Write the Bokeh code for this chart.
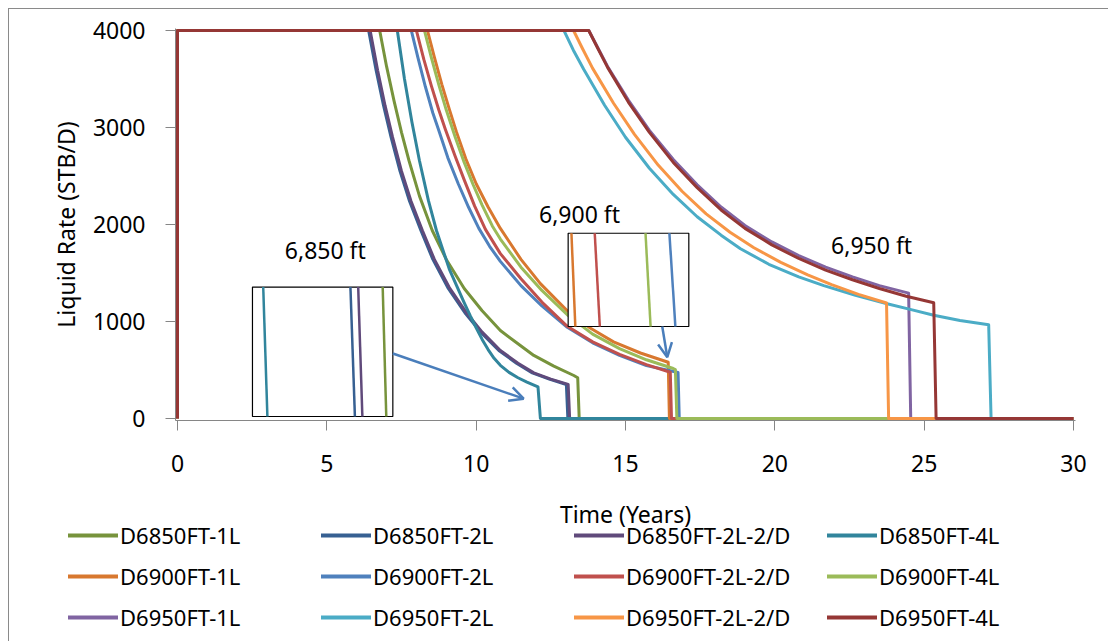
from bokeh.plotting import figure
from bokeh.models import (Range1d, FixedTicker, Legend, LegendItem, Arrow, OpenHead,
                          ColumnDataSource, InlineStyleSheet)
from bokeh.embed import file_html
from bokeh.resources import INLINE
from bokeh.core.properties import value

FONT = "Noto Sans"

# ---------------- data ----------------
names = ["D6850FT-1L", "D6850FT-2L", "D6850FT-2L-2/D", "D6850FT-4L",
         "D6900FT-1L", "D6900FT-2L", "D6900FT-2L-2/D", "D6900FT-4L",
         "D6950FT-1L", "D6950FT-2L", "D6950FT-2L-2/D", "D6950FT-4L"]
colors = ["#77933C", "#376092", "#604A7B", "#31859C",
          "#D8782F", "#4F81BD", "#C0504D", "#9BBB59",
          "#8064A2", "#4BACC6", "#F79646", "#953735"]

t_6850_1L = [0, 0, 6.77, 7.0, 7.25, 7.5, 7.75, 8.1, 8.53, 9.0, 9.6, 10.2, 10.81, 11.4, 11.93, 12.6, 13.27, 13.40, 13.45, 30]
q_6850_1L = [0, 4000, 4000, 3630, 3275, 2950, 2660, 2295, 1938, 1640, 1340, 1110, 907, 770, 650, 540, 443, 420, 0, 0]

t_6850_2L = [0, 0, 6.40, 6.65, 6.90, 7.15, 7.45, 7.77, 8.15, 8.55, 9.05, 9.65, 10.15, 10.76, 11.35, 11.88, 12.45, 13.02, 13.07, 30]
q_6850_2L = [0, 4000, 4000, 3590, 3225, 2900, 2550, 2240, 1938, 1640, 1350, 1079, 890, 701, 570, 470, 405, 350, 0, 0]

t_6850_2L2D = [0, 0, 6.45, 6.70, 6.95, 7.20, 7.50, 7.82, 8.20, 8.60, 9.10, 9.70, 10.20, 10.81, 11.40, 11.93, 12.50, 13.08, 13.13, 30]
q_6850_2L2D = [0, 4000, 4000, 3590, 3225, 2900, 2550, 2240, 1938, 1640, 1350, 1079, 890, 701, 570, 470, 405, 352, 0, 0]

t_6850_4L = [0, 0, 7.36, 7.6, 7.85, 8.1, 8.4, 8.67, 9.1, 9.59, 9.8, 10.0, 10.2, 10.4, 10.6, 10.81, 11.1, 11.4, 11.7, 12.07, 12.15, 30]
q_6850_4L = [0, 4000, 4000, 3500, 3055, 2660, 2248, 1938, 1540, 1200, 1060, 935, 815, 710, 620, 548, 475, 420, 375, 325, 0, 0]

t_6900_1L = [0, 0, 8.37, 8.6, 8.85, 9.1, 9.34, 9.65, 10.0, 10.4, 10.81, 11.5, 12.15, 13.05, 13.83, 14.6, 15.5, 16.43, 16.47, 30]
q_6900_1L = [0, 4000, 4000, 3725, 3445, 3190, 2955, 2680, 2420, 2180, 1960, 1640, 1390, 1110, 930, 790, 675, 580, 0, 0]

t_6900_2L = [0, 0, 7.83, 8.05, 8.3, 8.55, 8.75, 9.05, 9.4, 9.75, 10.09, 10.45, 10.81, 11.5, 12.2, 13.05, 13.9, 14.8, 15.7, 16.5, 16.76, 16.80, 30]
q_6900_2L = [0, 4000, 4000, 3720, 3420, 3150, 2970, 2690, 2420, 2175, 1960, 1775, 1620, 1370, 1160, 940, 780, 650, 545, 492, 474, 0, 0]

t_6900_2L2D = [0, 0, 8.0, 8.25, 8.5, 8.75, 8.97, 9.3, 9.6, 9.95, 10.31, 10.81, 11.5, 12.2, 13.05, 13.9, 14.8, 15.7, 16.5, 16.54, 30]
q_6900_2L2D = [0, 4000, 4000, 3700, 3430, 3180, 2980, 2700, 2460, 2190, 1950, 1700, 1440, 1200, 950, 790, 660, 555, 477, 0, 0]

t_6900_4L = [0, 0, 8.27, 8.5, 8.75, 9.0, 9.3, 9.6, 9.9, 10.2, 10.54, 10.81, 11.5, 12.2, 13.05, 13.9, 14.8, 15.7, 16.6, 16.67, 16.72, 30]
q_6900_4L = [0, 4000, 4000, 3720, 3440, 3180, 2900, 2640, 2410, 2200, 1985, 1850, 1560, 1320, 1070, 870, 720, 605, 515, 505, 0, 0]

t_6950_1L = [0, 0, 13.77, 14.05, 14.4, 15.1, 15.8, 16.6, 17.4, 18.2, 19.0, 19.9, 20.8, 21.7, 22.6, 23.5, 24.48, 24.55, 30]
q_6950_1L = [0, 4000, 4000, 3835, 3630, 3280, 2970, 2670, 2410, 2180, 1990, 1820, 1680, 1560, 1460, 1370, 1292, 0, 0]

t_6950_2L = [0, 0, 12.94, 13.25, 13.6, 14.3, 15.0, 15.8, 16.6, 17.4, 18.2, 18.85, 19.8, 20.8, 21.64, 22.7, 23.76, 24.6, 25.32, 26.2, 27.16, 27.24, 30]
q_6950_2L = [0, 4000, 4000, 3800, 3600, 3230, 2900, 2580, 2310, 2080, 1890, 1750, 1590, 1460, 1370, 1270, 1182, 1120, 1065, 1010, 966, 0, 0]

t_6950_2L2D = [0, 0, 13.26, 13.55, 13.9, 14.6, 15.3, 16.1, 16.9, 17.7, 18.5, 19.3, 20.2, 21.1, 21.9, 22.8, 23.74, 23.81, 30]
q_6950_2L2D = [0, 4000, 4000, 3820, 3610, 3250, 2930, 2610, 2340, 2110, 1920, 1760, 1610, 1480, 1380, 1280, 1190, 0, 0]

t_6950_4L = [0, 0, 13.77, 14.05, 14.4, 15.1, 15.8, 16.6, 17.4, 18.2, 19.0, 19.9, 20.8, 21.7, 22.6, 23.5, 24.4, 25.32, 25.40, 30]
q_6950_4L = [0, 4000, 4000, 3830, 3620, 3260, 2950, 2640, 2380, 2150, 1960, 1790, 1650, 1530, 1430, 1340, 1260, 1193, 0, 0]

series_t = [t_6850_1L, t_6850_2L, t_6850_2L2D, t_6850_4L,
            t_6900_1L, t_6900_2L, t_6900_2L2D, t_6900_4L,
            t_6950_1L, t_6950_2L, t_6950_2L2D, t_6950_4L]
series_q = [q_6850_1L, q_6850_2L, q_6850_2L2D, q_6850_4L,
            q_6900_1L, q_6900_2L, q_6900_2L2D, q_6900_4L,
            q_6950_1L, q_6950_2L, q_6950_2L2D, q_6950_4L]

x_ticks = [0, 5, 10, 15, 20, 25, 30]
y_ticks = [0, 1000, 2000, 3000, 4000]
depth_labels = ["6,850 ft", "6,900 ft", "6,950 ft"]
x_title = "Time (Years)"
y_title = "Liquid Rate (STB/D)"


def border_css(top):
    top_rule = " border-top: 1.5px solid #8a8a8a;" if top else ""
    return InlineStyleSheet(css=(
        ":host::after { content: ''; position: absolute; left: 8px; top: %s; right: 0; bottom: 0;"
        " border-left: 1.5px solid #8a8a8a;%s pointer-events: none; }" % ("8px" if top else "0", top_rule)))


# ---------------- main chart ----------------
p = figure(width=1108, height=480, output_backend="svg", toolbar_location=None,
           x_range=Range1d(-0.067, 30.067), y_range=Range1d(-21, 4021),
           min_border_left=175, min_border_right=33, min_border_top=28,
           min_border_bottom=60, background_fill_color="white",
           border_fill_color="white", outline_line_color=None)
p.grid.visible = False

for ax in (p.xaxis[0], p.yaxis[0]):
    ax.axis_line_color = "#868686"
    ax.major_tick_line_color = "#868686"
    ax.major_tick_out = 10
    ax.major_tick_in = 0
    ax.minor_tick_line_color = None
    ax.major_label_text_font = FONT
    ax.major_label_text_font_size = "23px"
    ax.major_label_text_color = "#000000"
    ax.axis_label_text_font = FONT
    ax.axis_label_text_font_size = "23px"
    ax.axis_label_text_font_style = "normal"
    ax.axis_label_text_color = "#000000"

p.xaxis[0].ticker = FixedTicker(ticks=x_ticks)
p.yaxis[0].ticker = FixedTicker(ticks=y_ticks)
p.yaxis[0].axis_label = y_title
p.xaxis[0].major_label_standoff = 24
p.yaxis[0].major_label_standoff = 20
p.yaxis[0].axis_label_standoff = 8

for name, col, tt, qq in zip(names, colors, series_t, series_q):
    p.line(tt, qq, line_color=col, line_width=3, line_join="round")

# insets (magnified views of the abandonment drops)
p.quad(left=[2.51], right=[7.21], bottom=[20], top=[1355],
       fill_color="white", line_color="#000000", line_width=1.2)
p.segment(x0=[2.87, 5.79, 6.05, 6.87], y0=[1355] * 4,
          x1=[3.01, 5.94, 6.19, 6.99], y1=[20] * 4,
          line_color=[colors[3], colors[1], colors[2], colors[0]], line_width=2.5)
p.quad(left=[13.08], right=[17.12], bottom=[948], top=[1910],
       fill_color="white", line_color="#000000", line_width=1.2)
p.segment(x0=[13.19, 13.97, 15.67, 16.47], y0=[1910] * 4,
          x1=[13.32, 14.14, 15.84, 16.67], y1=[948] * 4,
          line_color=[colors[4], colors[6], colors[7], colors[5]], line_width=2.5)

arrow_col = "#4A7EBB"
p.add_layout(Arrow(x_start=7.21, y_start=670, x_end=11.59, y_end=204,
                   line_color=arrow_col, line_width=2.5,
                   end=OpenHead(line_color=arrow_col, line_width=2.5, size=14)))
p.add_layout(Arrow(x_start=16.23, y_start=948, x_end=16.40, y_end=632,
                   line_color=arrow_col, line_width=2.5,
                   end=OpenHead(line_color=arrow_col, line_width=2.5, size=14)))

lab_src = ColumnDataSource(dict(x=[4.95, 13.46, 23.24], y=[1732, 2113, 1784], text=depth_labels))
p.text(x="x", y="y", text="text", source=lab_src, text_font=value(FONT),
       text_font_size="23px", text_align="center", text_baseline="middle",
       text_color="#000000")
p.stylesheets = [border_css(True)]

# ---------------- x-axis title + legend strip (separate root, full-width frame) ----------------
lp = figure(width=1108, height=161, output_backend="svg", toolbar_location=None,
            x_range=Range1d(0, 1108), y_range=Range1d(641, 480),
            x_axis_location=None, y_axis_location=None, min_border=0,
            background_fill_color="white", border_fill_color="white",
            outline_line_color=None)
lp.grid.visible = False
lp.text(x=[625], y=[513], text=[x_title], text_font=value(FONT), text_font_size="23px",
        text_align="center", text_baseline="middle", text_color="#000000")

items = []
for name, col in zip(names, colors):
    # legend-only proxy line, kept outside the visible range
    r = lp.line([-60, -50], [700, 700], line_color=col, line_width=4, line_cap="round")
    items.append(LegendItem(label=name, renderers=[r]))

legend = Legend(items=items, location=(68, 9), orientation="horizontal", ncols=4,
                glyph_width=50, glyph_height=26, label_height=26, label_width=190,
                label_standoff=2, spacing=11, padding=0, margin=0,
                label_text_font=FONT, label_text_font_size="22px",
                label_text_color="#000000",
                border_line_alpha=0, background_fill_alpha=0)
lp.add_layout(legend, "center")
lp.stylesheets = [border_css(False)]

open("out.html", "w").write(file_html([p, lp], INLINE))
